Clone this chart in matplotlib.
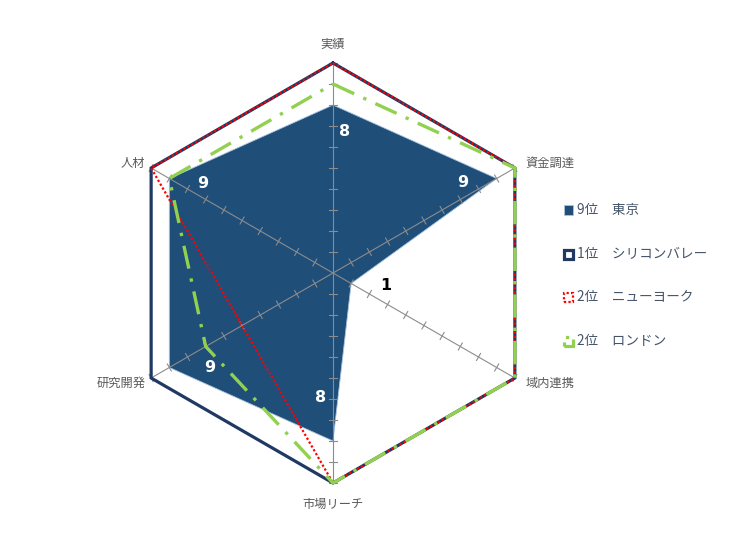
import numpy as np
import matplotlib
matplotlib.use("Agg")
import matplotlib.pyplot as plt
from matplotlib.patches import Rectangle, Polygon

plt.rcParams['font.family'] = ['Noto Sans CJK JP', 'DejaVu Sans']

categories = ['実績', '資金調達', '域内連携', '市場リーチ', '研究開発', '人材']
tokyo = [8, 9, 1, 8, 9, 9]
silicon_valley = [10, 10, 10, 10, 10, 10]
new_york = [10, 10, 10, 10, 5, 10]
london = [9, 10, 10, 10, 7, 9]
series_names = ['9位\u3000東京', '1位\u3000シリコンバレー', '2位\u3000ニューヨーク', '2位\u3000ロンドン']
rmax = 10

angles = np.deg2rad(90 - 60 * np.arange(len(categories)))

def xy(vals):
    v = np.asarray(vals, float)
    return v * np.cos(angles), v * np.sin(angles)

fig = plt.figure(figsize=(7.5, 5.6), dpi=100)
W, H = 750, 560
cx, cy, Rpx = 333, 273, 210
half = 240
ppu = Rpx / rmax
ax = fig.add_axes([(cx - half) / W, (H - cy - half) / H, 2 * half / W, 2 * half / H])
L = half / ppu
ax.set_xlim(-L, L)
ax.set_ylim(-L, L)
ax.set_aspect('equal')
ax.axis('off')

navy = '#1F3864'
tokyo_c = '#1F4E79'
red = '#FF0000'
green = '#92D050'
gray = '#8C8C8C'

# Tokyo fill
tx, ty = xy(tokyo)
ax.add_patch(Polygon(np.column_stack([tx, ty]), closed=True, facecolor=tokyo_c,
                     edgecolor='#A9C4E0', lw=0.6, zorder=2))

# spokes with ticks
tick_half = 4 / ppu
for a in angles:
    ax.plot([0, rmax * np.cos(a)], [0, rmax * np.sin(a)], color=gray, lw=0.8, zorder=3)
    px, py = -np.sin(a), np.cos(a)
    for r in range(1, rmax + 1):
        bx, by = r * np.cos(a), r * np.sin(a)
        ax.plot([bx - px * tick_half, bx + px * tick_half],
                [by - py * tick_half, by + py * tick_half], color=gray, lw=0.8, zorder=3)

def closed(vals):
    x, y = xy(vals)
    return np.append(x, x[0]), np.append(y, y[0])

sx, sy = closed(silicon_valley)
ax.plot(sx, sy, color=navy, lw=2.3, zorder=4, solid_joinstyle='miter')
nx, ny = closed(new_york)
ax.plot(nx, ny, color=red, lw=1.6, linestyle=(0, (1, 1)), zorder=5)
lx, ly = closed(london)
ax.plot(lx, ly, color=green, lw=2.4, linestyle=(0, (7, 3, 1, 3)), zorder=6)

# category labels
lab_off = [(0, 19, 'center', 'center'), (11, 5, 'left', 'center'), (11, -5, 'left', 'center'),
           (0, -21, 'center', 'center'), (-6, -5, 'right', 'center'), (-6, 5, 'right', 'center')]
for i, (c, a) in enumerate(zip(categories, angles)):
    dx, dy, ha, va = lab_off[i]
    ax.annotate(c, (rmax * np.cos(a), rmax * np.sin(a)), xytext=(dx, dy),
                textcoords='offset pixels', ha=ha, va=va, fontsize=8.8, color='#595959',
                annotation_clip=False)

# Tokyo data labels
val_off = [(12, -27), (-34, -4), (35, -2), (-12, 43), (40, 0), (33, -5)]
for i, v in enumerate(tokyo):
    dx, dy = val_off[i]
    col = 'black' if v <= 2 else 'white'
    ax.annotate(str(v), (tx[i], ty[i]), xytext=(dx, dy), textcoords='offset pixels',
                ha='center', va='center', fontsize=11.5, fontweight='bold', color=col,
                family=['DejaVu Sans'], zorder=8, annotation_clip=False)

# legend
leg_y = [210, 254, 297, 341]
sq = 9
styles = [dict(facecolor=tokyo_c, edgecolor='#A9C4E0', lw=0.6),
          dict(facecolor='white', edgecolor=navy, lw=2.3),
          dict(facecolor='white', edgecolor=red, lw=1.6, linestyle=(0, (1, 1))),
          dict(facecolor='white', edgecolor=green, lw=2.3, linestyle=(0, (5, 2, 1, 2)))]
for y, name, st in zip(leg_y, series_names, styles):
    fig.patches.append(Rectangle(((568 - sq / 2) / W, (H - y - sq / 2) / H), sq / W, sq / H,
                                 transform=fig.transFigure, **st))
    fig.text(577 / W, (H - y) / H, name, ha='left', va='center', fontsize=9.8, color='#44546A')

fig.savefig('out.png', dpi=100, facecolor='white')
